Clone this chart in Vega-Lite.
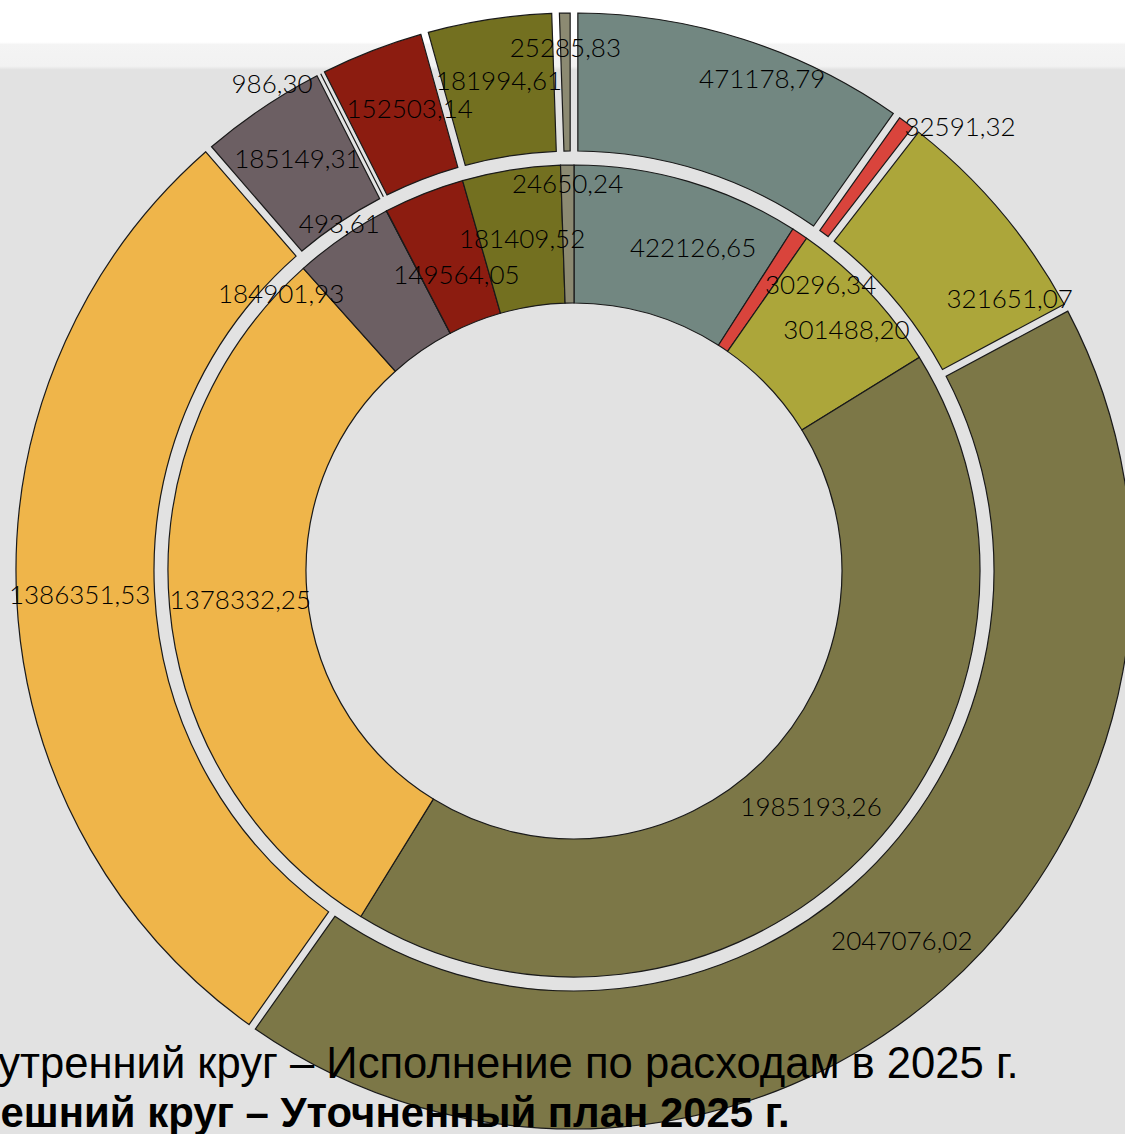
{
  "$schema": "https://vega.github.io/schema/vega-lite/v6.json",
  "width": 1148,
  "height": 1142,
  "autosize": "none",
  "padding": 0,
  "background": "#e2e2e2",
  "view": {
    "stroke": null,
    "fill": {
      "gradient": "linear",
      "x1": 0, "y1": 0, "x2": 0, "y2": 1,
      "stops": [
        {"offset": 0, "color": "#ffffff"},
        {"offset": 0.037, "color": "#ffffff"},
        {"offset": 0.039, "color": "#f4f4f4"},
        {"offset": 0.058, "color": "#f2f2f2"},
        {"offset": 0.061, "color": "#e2e2e2"},
        {"offset": 1, "color": "#e2e2e2"}
      ]
    }
  },
  "config": {
    "text": {"font": "Lato", "fontSize": 26, "fontWeight": 300, "color": "#000000"}
  },
  "title": {
    "text": "Внутренний круг – Исполнение по расходам в 2025 г.",
    "subtitle": "Внешний круг – Уточненный план 2025 г.",
    "orient": "bottom",
    "anchor": "start",
    "frame": "group",
    "offset": -98,
    "dx": -55,
    "font": "Liberation Sans",
    "fontSize": 43.6,
    "fontWeight": "normal",
    "color": "#000000",
    "subtitleFont": "Liberation Sans",
    "subtitleFontSize": 41.9,
    "subtitleFontWeight": "bold",
    "subtitleColor": "#000000",
    "subtitlePadding": 6
  },
  "data": {
    "values": [
      {"ring": "inner", "idx": 1, "cat": "k1", "value": 422126.65, "label": "422126,65"},
      {"ring": "inner", "idx": 2, "cat": "k2", "value": 30296.34, "label": "30296,34"},
      {"ring": "inner", "idx": 3, "cat": "k3", "value": 301488.20, "label": "301488,20"},
      {"ring": "inner", "idx": 4, "cat": "k4", "value": 1985193.26, "label": "1985193,26"},
      {"ring": "inner", "idx": 5, "cat": "k5", "value": 1378332.25, "label": "1378332,25"},
      {"ring": "inner", "idx": 6, "cat": "k6", "value": 184901.93, "label": "184901,93"},
      {"ring": "inner", "idx": 7, "cat": "k7", "value": 493.61, "label": "493,61"},
      {"ring": "inner", "idx": 8, "cat": "k8", "value": 149564.05, "label": "149564,05"},
      {"ring": "inner", "idx": 9, "cat": "k9", "value": 181409.52, "label": "181409,52"},
      {"ring": "inner", "idx": 10, "cat": "k10", "value": 24650.24, "label": "24650,24"},
      {"ring": "outer", "idx": 1, "cat": "k1", "value": 471178.79, "label": "471178,79"},
      {"ring": "outer", "idx": 2, "cat": "k2", "value": 32591.32, "label": "32591,32"},
      {"ring": "outer", "idx": 3, "cat": "k3", "value": 321651.07, "label": "321651,07"},
      {"ring": "outer", "idx": 4, "cat": "k4", "value": 2047076.02, "label": "2047076,02"},
      {"ring": "outer", "idx": 5, "cat": "k5", "value": 1386351.53, "label": "1386351,53"},
      {"ring": "outer", "idx": 6, "cat": "k6", "value": 185149.31, "label": "185149,31"},
      {"ring": "outer", "idx": 7, "cat": "k7", "value": 986.30, "label": "986,30"},
      {"ring": "outer", "idx": 8, "cat": "k8", "value": 152503.14, "label": "152503,14"},
      {"ring": "outer", "idx": 9, "cat": "k9", "value": 181994.61, "label": "181994,61"},
      {"ring": "outer", "idx": 10, "cat": "k10", "value": 25285.83, "label": "25285,83"}
    ]
  },
  "layer": [
    {
      "transform": [{"filter": "datum.ring == 'inner'"}],
      "mark": {"type": "arc", "innerRadius": 268, "outerRadius": 406, "stroke": "#1a1a1a", "strokeWidth": 1.2},
      "encoding": {
        "theta": {"field": "value", "type": "quantitative", "stack": true},
        "order": {"field": "idx", "type": "quantitative"},
        "color": {
          "field": "cat", "type": "nominal", "legend": null,
          "scale": {
            "domain": ["k1", "k2", "k3", "k4", "k5", "k6", "k7", "k8", "k9", "k10"],
            "range": ["#728781", "#d9443c", "#aca63a", "#7c7747", "#efb54a", "#6c5f63", "#3a3a3a", "#8c1c10", "#737020", "#8c8a72"]
          }
        }
      }
    },
    {
      "transform": [{"filter": "datum.ring == 'outer'"}],
      "mark": {"type": "arc", "innerRadius": 420, "outerRadius": 558, "padAngle": 0.011, "stroke": "#1a1a1a", "strokeWidth": 1.2},
      "encoding": {
        "theta": {"field": "value", "type": "quantitative", "stack": true},
        "order": {"field": "idx", "type": "quantitative"},
        "color": {"field": "cat", "type": "nominal", "legend": null}
      }
    },
    {
      "transform": [{"filter": "datum.ring == 'inner'"}],
      "mark": {"type": "text", "radius": 335},
      "encoding": {
        "theta": {"field": "value", "type": "quantitative", "stack": true},
        "order": {"field": "idx", "type": "quantitative"},
        "text": {"condition": {"test": "indexof([4, 5, 9], datum.idx) >= 0", "field": "label"}, "value": ""}
      }
    },
    {
      "transform": [{"filter": "datum.ring == 'inner'"}],
      "mark": {"type": "text", "radius": 335, "dx": 25},
      "encoding": {
        "theta": {"field": "value", "type": "quantitative", "stack": true},
        "order": {"field": "idx", "type": "quantitative"},
        "text": {"condition": {"test": "datum.idx == 1", "field": "label"}, "value": ""}
      }
    },
    {
      "transform": [{"filter": "datum.ring == 'inner'"}],
      "mark": {"type": "text", "radius": 318},
      "encoding": {
        "theta": {"field": "value", "type": "quantitative", "stack": true},
        "order": {"field": "idx", "type": "quantitative"},
        "text": {"condition": {"test": "datum.idx == 8", "field": "label"}, "value": ""}
      }
    },
    {
      "transform": [{"filter": "datum.ring == 'inner'"}],
      "mark": {"type": "text", "radius": 365, "align": "left", "dx": -12, "dy": 18},
      "encoding": {
        "theta": {"field": "value", "type": "quantitative", "stack": true},
        "order": {"field": "idx", "type": "quantitative"},
        "text": {"condition": {"test": "datum.idx == 2", "field": "label"}, "value": ""}
      }
    },
    {
      "transform": [{"filter": "datum.ring == 'inner'"}],
      "mark": {"type": "text", "radius": 375, "dy": 18},
      "encoding": {
        "theta": {"field": "value", "type": "quantitative", "stack": true},
        "order": {"field": "idx", "type": "quantitative"},
        "text": {"condition": {"test": "datum.idx == 3", "field": "label"}, "value": ""}
      }
    },
    {
      "transform": [{"filter": "datum.ring == 'inner'"}],
      "mark": {"type": "text", "radius": 360, "align": "right", "dx": -25, "dy": 20},
      "encoding": {
        "theta": {"field": "value", "type": "quantitative", "stack": true},
        "order": {"field": "idx", "type": "quantitative"},
        "text": {"condition": {"test": "datum.idx == 6", "field": "label"}, "value": ""}
      }
    },
    {
      "transform": [{"filter": "datum.ring == 'inner'"}],
      "mark": {"type": "text", "radius": 386},
      "encoding": {
        "theta": {"field": "value", "type": "quantitative", "stack": true},
        "order": {"field": "idx", "type": "quantitative"},
        "text": {"condition": {"test": "datum.idx == 10", "field": "label"}, "value": ""}
      }
    },
    {
      "transform": [{"filter": "datum.ring == 'inner'"}],
      "mark": {"type": "text", "radius": 390, "align": "right", "dx": -14},
      "encoding": {
        "theta": {"field": "value", "type": "quantitative", "stack": true},
        "order": {"field": "idx", "type": "quantitative"},
        "text": {"condition": {"test": "datum.idx == 7", "field": "label"}, "value": ""}
      }
    },
    {
      "transform": [{"filter": "datum.ring == 'outer'"}],
      "mark": {"type": "text", "radius": 495},
      "encoding": {
        "theta": {"field": "value", "type": "quantitative", "stack": true},
        "order": {"field": "idx", "type": "quantitative"},
        "text": {"condition": {"test": "indexof([4, 5, 6, 9], datum.idx) >= 0", "field": "label"}, "value": ""}
      }
    },
    {
      "transform": [{"filter": "datum.ring == 'outer'"}],
      "mark": {"type": "text", "radius": 495, "dx": 15},
      "encoding": {
        "theta": {"field": "value", "type": "quantitative", "stack": true},
        "order": {"field": "idx", "type": "quantitative"},
        "text": {"condition": {"test": "datum.idx == 8", "field": "label"}, "value": ""}
      }
    },
    {
      "transform": [{"filter": "datum.ring == 'outer'"}],
      "mark": {"type": "text", "radius": 522, "dx": 30, "dy": 6},
      "encoding": {
        "theta": {"field": "value", "type": "quantitative", "stack": true},
        "order": {"field": "idx", "type": "quantitative"},
        "text": {"condition": {"test": "datum.idx == 1", "field": "label"}, "value": ""}
      }
    },
    {
      "transform": [{"filter": "datum.ring == 'outer'"}],
      "mark": {"type": "text", "radius": 522},
      "encoding": {
        "theta": {"field": "value", "type": "quantitative", "stack": true},
        "order": {"field": "idx", "type": "quantitative"},
        "text": {"condition": {"test": "datum.idx == 10", "field": "label"}, "value": ""}
      }
    },
    {
      "transform": [{"filter": "datum.ring == 'outer'"}],
      "mark": {"type": "text", "radius": 522, "dx": 37, "dy": 66},
      "encoding": {
        "theta": {"field": "value", "type": "quantitative", "stack": true},
        "order": {"field": "idx", "type": "quantitative"},
        "text": {"condition": {"test": "datum.idx == 3", "field": "label"}, "value": ""}
      }
    },
    {
      "transform": [{"filter": "datum.ring == 'outer'"}],
      "mark": {"type": "text", "radius": 572, "align": "left", "dx": -10, "dy": 17},
      "encoding": {
        "theta": {"field": "value", "type": "quantitative", "stack": true},
        "order": {"field": "idx", "type": "quantitative"},
        "text": {"condition": {"test": "datum.idx == 2", "field": "label"}, "value": ""}
      }
    },
    {
      "transform": [{"filter": "datum.ring == 'outer'"}],
      "mark": {"type": "text", "radius": 545, "align": "right", "dx": -14},
      "encoding": {
        "theta": {"field": "value", "type": "quantitative", "stack": true},
        "order": {"field": "idx", "type": "quantitative"},
        "text": {"condition": {"test": "datum.idx == 7", "field": "label"}, "value": ""}
      }
    }
  ],
  "resolve": {"scale": {"theta": "independent"}}
}
